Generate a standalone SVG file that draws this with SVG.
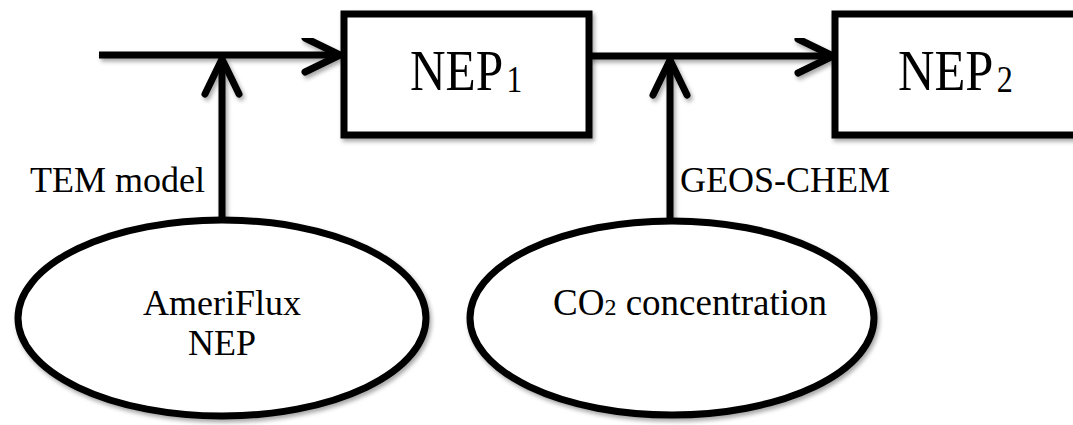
<svg xmlns="http://www.w3.org/2000/svg" width="1073" height="425" viewBox="0 0 1073 425">
  <style>
    .shape { fill: #ffffff; stroke: #000000; stroke-width: 7; }
    .conn { fill: none; stroke: #000000; stroke-width: 7; }
    .lbl { font-family: "Liberation Serif", "Times New Roman", serif; fill: #000000; }
    .big { font-size: 58px; }
    .sub { font-size: 37px; }
    .small { font-size: 36px; }
    .sub2 { font-size: 24px; }
  </style>
  <defs>
    <filter id="shadow" x="-10%" y="-10%" width="130%" height="140%">
      <feDropShadow dx="2" dy="3" stdDeviation="2" flood-color="#000000" flood-opacity="0.35"/>
    </filter>
    <marker id="chev" viewBox="-42 -24 48 48" markerWidth="48" markerHeight="48" refX="0" refY="0" orient="auto" markerUnits="userSpaceOnUse" overflow="visible">
      <path d="M -35 -17 L 0 0 L -35 17" fill="none" stroke="#000000" stroke-width="7" stroke-linecap="round" stroke-linejoin="round"/>
    </marker>
  </defs>
  <rect width="1073" height="425" fill="#ffffff"/>

  <g id="connectors" filter="url(#shadow)">
    <line class="conn" x1="99" y1="55" x2="340" y2="55" marker-end="url(#chev)"/>
    <line class="conn" x1="222" y1="220" x2="222" y2="59" marker-end="url(#chev)"/>
    <line class="conn" x1="589" y1="56" x2="833" y2="56" marker-end="url(#chev)"/>
    <line class="conn" x1="670" y1="221" x2="670" y2="60" marker-end="url(#chev)"/>
  </g>

  <g id="label-tem">
    <text class="lbl small" x="205" y="192" text-anchor="end">TEM model</text>
  </g>
  <g id="label-geos">
    <text class="lbl small" x="680" y="192">GEOS-CHEM</text>
  </g>

  <g id="nep1">
    <rect class="shape" x="344" y="14" width="245" height="121" filter="url(#shadow)"/>
    <text class="lbl big" transform="translate(410,90) scale(0.85,1)">NEP<tspan class="sub" dx="4" dy="2">1</tspan></text>
  </g>

  <g id="nep2">
    <rect class="shape" x="835" y="14" width="260" height="121" filter="url(#shadow)"/>
    <text class="lbl big" transform="translate(898,90) scale(0.87,1)">NEP<tspan class="sub" dx="4" dy="2">2</tspan></text>
  </g>

  <g id="ameriflux">
    <ellipse class="shape" cx="222" cy="318" rx="204" ry="98" filter="url(#shadow)"/>
    <text class="lbl small" x="222" y="315" text-anchor="middle">AmeriFlux</text>
    <text class="lbl small" x="222" y="355" text-anchor="middle">NEP</text>
  </g>

  <g id="co2">
    <ellipse class="shape" cx="672" cy="318" rx="202" ry="97" filter="url(#shadow)"/>
    <text class="lbl small" x="553" y="315" style="font-size:37px">CO<tspan class="sub2">2</tspan> concentration</text>
  </g>
</svg>
